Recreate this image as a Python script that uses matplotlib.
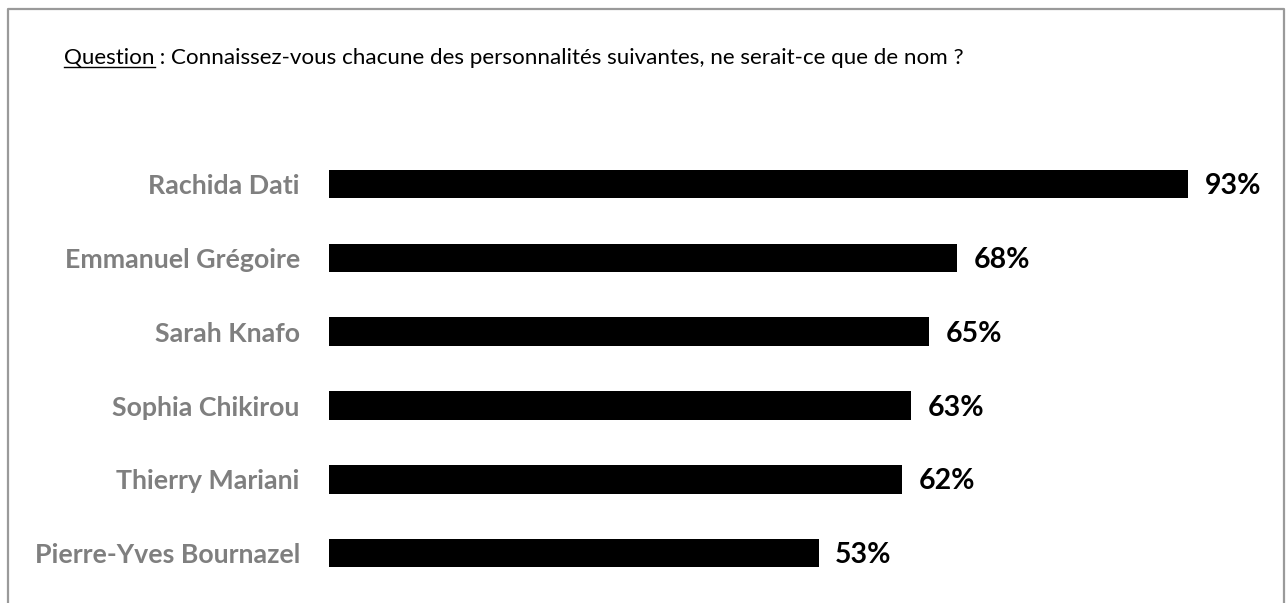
import matplotlib
matplotlib.use("Agg")
import matplotlib.pyplot as plt
from matplotlib.lines import Line2D

names = ["Rachida Dati", "Emmanuel Grégoire", "Sarah Knafo", "Sophia Chikirou",
         "Thierry Mariani", "Pierre-Yves Bournazel"]
values = [93, 68, 65, 63, 62, 53]
value_labels = ["93%", "68%", "65%", "63%", "62%", "53%"]
question_label = "Question"
question_text = " : Connaissez-vous chacune des personnalités suivantes, ne serait-ce que de nom ?"

W, H = 1288, 603
fig = plt.figure(figsize=(W / 100, H / 100), dpi=100)
fig.patch.set_facecolor("white")

FONT = "Lato"

ax = fig.add_axes([329 / W, 1 - 590 / H, 923.7 / W, 442.8 / H])
ypos = list(range(len(names)))
ax.barh(ypos, values, height=0.39, color="black")
ax.set_xlim(0, 100)
ax.set_ylim(len(names) - 0.5, -0.5)
ax.set_yticks(ypos)
ax.set_yticklabels(names, fontfamily=FONT, fontweight="bold", fontsize=19.3, color="#7f7f7f")
ax.tick_params(axis="y", length=0, pad=21)
ax.set_xticks([])
for s in ax.spines.values():
    s.set_visible(False)
ax.patch.set_alpha(0)

for y, v, lab in zip(ypos, values, value_labels):
    ax.annotate(lab, xy=(v, y), xytext=(12, -1.5), textcoords="offset points",
                va="center", ha="left", fontfamily=FONT, fontweight="bold",
                fontsize=20.5, color="black")

# border (top, left, right)
bx0, bx1, by0 = 8 / W, 1284 / W, 1 - 9 / H
fig.add_artist(Line2D([bx0, bx0, bx1, bx1], [0, by0, by0, 0], transform=fig.transFigure,
                      color="#9a9a9a", linewidth=1.6))

# title with underlined "Question"
tx, ty = 64 / W, 1 - 58 / H
t1 = fig.text(tx, ty, question_label, fontfamily=FONT, fontsize=16.1, color="black",
              va="center", ha="left")
fig.canvas.draw()
r = fig.canvas.get_renderer()
bb = t1.get_window_extent(r)
fig.text(bb.x1 / W, ty, question_text, fontfamily=FONT, fontsize=16.1, color="black",
         va="center", ha="left")
uy = (bb.y0 + 1) / H
fig.add_artist(Line2D([bb.x0 / W, bb.x1 / W], [uy, uy], transform=fig.transFigure,
                      color="black", linewidth=1.0))

fig.savefig("out.png", dpi=100, facecolor="white")
